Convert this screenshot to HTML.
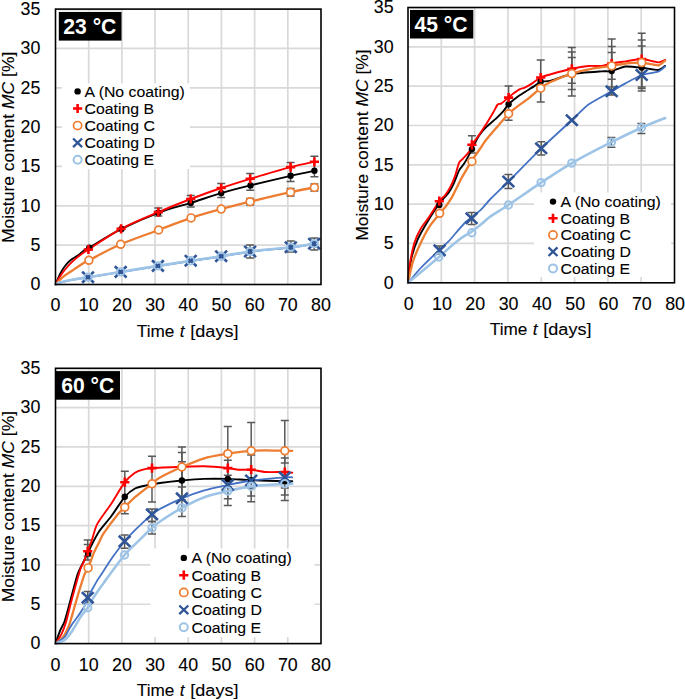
<!DOCTYPE html>
<html><head><meta charset="utf-8"><style>
html,body{margin:0;padding:0;background:#fff;width:685px;height:700px;overflow:hidden;}
svg{display:block;}
text{font-family:"Liberation Sans", sans-serif;}
text[fill="#000"]{stroke:#000;stroke-width:0.1px;}
</style></head><body>
<svg width="685" height="700" viewBox="0 0 685 700">
<rect width="685" height="700" fill="#fff"/>
<line x1="55.50" y1="245.16" x2="321.00" y2="245.16" stroke="#D9D9D9" stroke-width="1.7"/>
<line x1="55.50" y1="205.81" x2="321.00" y2="205.81" stroke="#D9D9D9" stroke-width="1.7"/>
<line x1="55.50" y1="166.47" x2="321.00" y2="166.47" stroke="#D9D9D9" stroke-width="1.7"/>
<line x1="55.50" y1="127.13" x2="321.00" y2="127.13" stroke="#D9D9D9" stroke-width="1.7"/>
<line x1="55.50" y1="87.79" x2="321.00" y2="87.79" stroke="#D9D9D9" stroke-width="1.7"/>
<line x1="55.50" y1="48.44" x2="321.00" y2="48.44" stroke="#D9D9D9" stroke-width="1.7"/>
<line x1="88.69" y1="9.10" x2="88.69" y2="284.50" stroke="#D9D9D9" stroke-width="1.7"/>
<line x1="121.88" y1="9.10" x2="121.88" y2="284.50" stroke="#D9D9D9" stroke-width="1.7"/>
<line x1="155.06" y1="9.10" x2="155.06" y2="284.50" stroke="#D9D9D9" stroke-width="1.7"/>
<line x1="188.25" y1="9.10" x2="188.25" y2="284.50" stroke="#D9D9D9" stroke-width="1.7"/>
<line x1="221.44" y1="9.10" x2="221.44" y2="284.50" stroke="#D9D9D9" stroke-width="1.7"/>
<line x1="254.62" y1="9.10" x2="254.62" y2="284.50" stroke="#D9D9D9" stroke-width="1.7"/>
<line x1="287.81" y1="9.10" x2="287.81" y2="284.50" stroke="#D9D9D9" stroke-width="1.7"/>
<rect x="62.00" y="83.40" width="128.00" height="85.60" fill="#fff"/>
<rect x="58.80" y="12.00" width="62.70" height="28.60" fill="#000"/>
<rect x="58.80" y="10.20" width="62.70" height="1.3" fill="#E4E4E4"/>
<text transform="translate(63.30 33.60) scale(0.960 1)" font-size="22" text-anchor="start" font-weight="bold" fill="#fff" >23 °C</text>
<path d="M250.20 173.60V190.30M246.20 173.60H254.20M246.20 190.30H254.20" stroke="#595959" stroke-width="1.5" fill="none"/>
<path d="M290.60 162.40V181.60M286.60 162.40H294.60M286.60 181.60H294.60" stroke="#595959" stroke-width="1.5" fill="none"/>
<path d="M314.40 156.20V176.70M310.40 156.20H318.40M310.40 176.70H318.40" stroke="#595959" stroke-width="1.5" fill="none"/>
<path d="M221.20 183.50V197.50M217.20 183.50H225.20M217.20 197.50H225.20" stroke="#595959" stroke-width="1.5" fill="none"/>
<path d="M190.70 195.50V207.00M186.70 195.50H194.70M186.70 207.00H194.70" stroke="#595959" stroke-width="1.5" fill="none"/>
<path d="M158.30 208.00V216.00M154.30 208.00H162.30M154.30 216.00H162.30" stroke="#595959" stroke-width="1.5" fill="none"/>
<path d="M290.60 188.50V196.00M286.60 188.50H294.60M286.60 196.00H294.60" stroke="#595959" stroke-width="1.5" fill="none"/>
<path d="M314.40 184.00V191.00M310.40 184.00H318.40M310.40 191.00H318.40" stroke="#595959" stroke-width="1.5" fill="none"/>
<path d="M250.10 198.50V205.00M246.10 198.50H254.10M246.10 205.00H254.10" stroke="#595959" stroke-width="1.5" fill="none"/>
<path d="M314.20 238.00V250.00M310.20 238.00H318.20M310.20 250.00H318.20" stroke="#595959" stroke-width="1.5" fill="none"/>
<path d="M290.80 241.00V252.00M286.80 241.00H294.80M286.80 252.00H294.80" stroke="#595959" stroke-width="1.5" fill="none"/>
<path d="M250.10 245.00V258.00M246.10 245.00H254.10M246.10 258.00H254.10" stroke="#595959" stroke-width="1.5" fill="none"/>
<path d="M55.50 284.50 C56.35 282.57 58.88 276.15 60.60 272.90 C62.32 269.65 64.05 267.20 65.80 265.00 C67.55 262.80 69.23 261.18 71.10 259.70 C72.97 258.22 75.25 257.30 77.00 256.10 C78.75 254.90 80.17 253.65 81.60 252.50 C83.03 251.35 84.32 250.02 85.60 249.20 C86.88 248.38 83.32 250.98 89.30 247.60 C95.28 244.22 110.00 234.70 121.50 228.90 C133.00 223.10 146.77 217.13 158.30 212.80 C169.83 208.47 180.22 206.18 190.70 202.90 C201.18 199.62 211.23 196.02 221.20 193.10 C231.17 190.18 238.93 188.28 250.50 185.40 C262.07 182.52 279.95 178.23 290.60 175.80 C301.25 173.37 310.43 171.63 314.40 170.80" fill="none" stroke="#000000" stroke-width="1.9" stroke-linejoin="round" stroke-linecap="round"/>
<path d="M55.50 284.50 C56.35 283.00 58.65 278.42 60.60 275.50 C62.55 272.58 65.02 269.52 67.20 267.00 C69.38 264.48 71.52 262.38 73.70 260.40 C75.88 258.42 77.85 256.92 80.30 255.10 C82.75 253.28 81.60 253.88 88.40 249.50 C95.20 245.12 109.45 235.03 121.10 228.80 C132.75 222.57 146.70 217.07 158.30 212.10 C169.90 207.13 180.22 203.02 190.70 199.00 C201.18 194.98 211.28 191.37 221.20 188.00 C231.12 184.63 238.63 182.28 250.20 178.80 C261.77 175.32 279.90 169.93 290.60 167.10 C301.30 164.27 310.43 162.68 314.40 161.80" fill="none" stroke="#FF0000" stroke-width="1.9" stroke-linejoin="round" stroke-linecap="round"/>
<path d="M55.50 284.50 C56.90 283.12 60.87 278.68 63.90 276.20 C66.93 273.72 70.42 271.80 73.70 269.60 C76.98 267.40 81.07 264.55 83.60 263.00 C86.13 261.45 82.72 263.42 88.90 260.30 C95.08 257.18 109.08 249.35 120.70 244.30 C132.32 239.25 146.87 234.40 158.60 230.00 C170.33 225.60 180.67 221.38 191.10 217.90 C201.53 214.42 211.37 211.80 221.20 209.10 C231.03 206.40 238.53 204.52 250.10 201.70 C261.67 198.88 279.88 194.57 290.60 192.20 C301.32 189.83 310.43 188.28 314.40 187.50" fill="none" stroke="#ED7D31" stroke-width="2.3" stroke-linejoin="round" stroke-linecap="round"/>
<path d="M55.50 284.50 C56.35 284.15 57.57 283.20 60.60 282.40 C63.63 281.60 69.13 280.53 73.70 279.70 C78.27 278.87 80.17 278.65 88.00 277.40 C95.83 276.15 109.05 274.07 120.70 272.20 C132.35 270.33 146.23 268.07 157.90 266.20 C169.57 264.33 180.15 262.62 190.70 261.00 C201.25 259.38 211.30 258.03 221.20 256.50 C231.10 254.97 238.50 253.30 250.10 251.80 C261.70 250.30 280.12 248.80 290.80 247.50 C301.48 246.20 310.30 244.58 314.20 244.00" fill="none" stroke="#4472C4" stroke-width="1.8" stroke-linejoin="round" stroke-linecap="round"/>
<path d="M55.50 284.50 C56.35 284.13 57.57 283.13 60.60 282.30 C63.63 281.47 69.13 280.35 73.70 279.50 C78.27 278.65 80.17 278.47 88.00 277.20 C95.83 275.93 109.05 273.78 120.70 271.90 C132.35 270.02 146.23 267.77 157.90 265.90 C169.57 264.03 180.15 262.32 190.70 260.70 C201.25 259.08 211.30 257.73 221.20 256.20 C231.10 254.67 238.50 253.00 250.10 251.50 C261.70 250.00 280.12 248.50 290.80 247.20 C301.48 245.90 310.30 244.28 314.20 243.70" fill="none" stroke="#9DC3E6" stroke-width="2.6" stroke-linejoin="round" stroke-linecap="round"/>
<circle cx="89.30" cy="247.60" r="3.20" fill="#000"/>
<circle cx="121.50" cy="228.90" r="3.20" fill="#000"/>
<circle cx="158.30" cy="212.80" r="3.20" fill="#000"/>
<circle cx="190.70" cy="202.90" r="3.20" fill="#000"/>
<circle cx="221.20" cy="193.10" r="3.20" fill="#000"/>
<circle cx="250.50" cy="185.40" r="3.20" fill="#000"/>
<circle cx="290.60" cy="175.80" r="3.20" fill="#000"/>
<circle cx="314.40" cy="170.80" r="3.20" fill="#000"/>
<path d="M83.80 249.50H93.00M88.40 244.90V254.10" stroke="#FF0000" stroke-width="2.6" fill="none"/>
<path d="M116.50 228.80H125.70M121.10 224.20V233.40" stroke="#FF0000" stroke-width="2.6" fill="none"/>
<path d="M153.70 212.10H162.90M158.30 207.50V216.70" stroke="#FF0000" stroke-width="2.6" fill="none"/>
<path d="M186.10 199.00H195.30M190.70 194.40V203.60" stroke="#FF0000" stroke-width="2.6" fill="none"/>
<path d="M216.60 188.00H225.80M221.20 183.40V192.60" stroke="#FF0000" stroke-width="2.6" fill="none"/>
<path d="M245.60 178.80H254.80M250.20 174.20V183.40" stroke="#FF0000" stroke-width="2.6" fill="none"/>
<path d="M286.00 167.10H295.20M290.60 162.50V171.70" stroke="#FF0000" stroke-width="2.6" fill="none"/>
<path d="M309.80 161.80H319.00M314.40 157.20V166.40" stroke="#FF0000" stroke-width="2.6" fill="none"/>
<circle cx="88.90" cy="260.30" r="3.90" fill="#fff" stroke="#ED7D31" stroke-width="1.7"/>
<circle cx="120.70" cy="244.30" r="3.90" fill="#fff" stroke="#ED7D31" stroke-width="1.7"/>
<circle cx="158.60" cy="230.00" r="3.90" fill="#fff" stroke="#ED7D31" stroke-width="1.7"/>
<circle cx="191.10" cy="217.90" r="3.90" fill="#fff" stroke="#ED7D31" stroke-width="1.7"/>
<circle cx="221.20" cy="209.10" r="3.90" fill="#fff" stroke="#ED7D31" stroke-width="1.7"/>
<circle cx="250.10" cy="201.70" r="3.90" fill="#fff" stroke="#ED7D31" stroke-width="1.7"/>
<circle cx="290.60" cy="192.20" r="3.90" fill="#fff" stroke="#ED7D31" stroke-width="1.7"/>
<circle cx="314.40" cy="187.50" r="3.90" fill="#fff" stroke="#ED7D31" stroke-width="1.7"/>
<path d="M82.12 271.60L93.88 282.80M82.12 282.80L93.88 271.60" stroke="#2F5597" stroke-width="2.60" fill="none"/>
<path d="M114.82 266.30L126.58 277.50M114.82 277.50L126.58 266.30" stroke="#2F5597" stroke-width="2.60" fill="none"/>
<path d="M152.02 260.30L163.78 271.50M152.02 271.50L163.78 260.30" stroke="#2F5597" stroke-width="2.60" fill="none"/>
<path d="M184.82 255.10L196.58 266.30M184.82 266.30L196.58 255.10" stroke="#2F5597" stroke-width="2.60" fill="none"/>
<path d="M215.32 250.60L227.08 261.80M215.32 261.80L227.08 250.60" stroke="#2F5597" stroke-width="2.60" fill="none"/>
<path d="M244.22 245.90L255.98 257.10M244.22 257.10L255.98 245.90" stroke="#2F5597" stroke-width="2.60" fill="none"/>
<path d="M284.92 241.60L296.68 252.80M284.92 252.80L296.68 241.60" stroke="#2F5597" stroke-width="2.60" fill="none"/>
<path d="M308.32 238.10L320.08 249.30M308.32 249.30L320.08 238.10" stroke="#2F5597" stroke-width="2.60" fill="none"/>
<circle cx="88.00" cy="277.20" r="3.70" fill="none" stroke="#9DC3E6" stroke-width="2.0"/>
<circle cx="120.70" cy="271.90" r="3.70" fill="none" stroke="#9DC3E6" stroke-width="2.0"/>
<circle cx="157.90" cy="265.90" r="3.70" fill="none" stroke="#9DC3E6" stroke-width="2.0"/>
<circle cx="190.70" cy="260.70" r="3.70" fill="none" stroke="#9DC3E6" stroke-width="2.0"/>
<circle cx="221.20" cy="256.20" r="3.70" fill="none" stroke="#9DC3E6" stroke-width="2.0"/>
<circle cx="250.10" cy="251.50" r="3.70" fill="none" stroke="#9DC3E6" stroke-width="2.0"/>
<circle cx="290.80" cy="247.20" r="3.70" fill="none" stroke="#9DC3E6" stroke-width="2.0"/>
<circle cx="314.20" cy="243.70" r="3.70" fill="none" stroke="#9DC3E6" stroke-width="2.0"/>
<rect x="55.50" y="9.10" width="265.50" height="275.40" fill="none" stroke="#000" stroke-width="1.6"/>
<text transform="translate(40.30 290.30) scale(1.020 1)" font-size="17.5" text-anchor="end" font-weight="normal" fill="#000" >0</text>
<text transform="translate(40.30 250.96) scale(1.020 1)" font-size="17.5" text-anchor="end" font-weight="normal" fill="#000" >5</text>
<text transform="translate(40.30 211.61) scale(1.020 1)" font-size="17.5" text-anchor="end" font-weight="normal" fill="#000" >10</text>
<text transform="translate(40.30 172.27) scale(1.020 1)" font-size="17.5" text-anchor="end" font-weight="normal" fill="#000" >15</text>
<text transform="translate(40.30 132.93) scale(1.020 1)" font-size="17.5" text-anchor="end" font-weight="normal" fill="#000" >20</text>
<text transform="translate(40.30 93.59) scale(1.020 1)" font-size="17.5" text-anchor="end" font-weight="normal" fill="#000" >25</text>
<text transform="translate(40.30 54.24) scale(1.020 1)" font-size="17.5" text-anchor="end" font-weight="normal" fill="#000" >30</text>
<text transform="translate(40.30 14.90) scale(1.020 1)" font-size="17.5" text-anchor="end" font-weight="normal" fill="#000" >35</text>
<text transform="translate(55.50 311.10) scale(1.020 1)" font-size="17.5" text-anchor="middle" font-weight="normal" fill="#000" >0</text>
<text transform="translate(88.69 311.10) scale(1.020 1)" font-size="17.5" text-anchor="middle" font-weight="normal" fill="#000" >10</text>
<text transform="translate(121.88 311.10) scale(1.020 1)" font-size="17.5" text-anchor="middle" font-weight="normal" fill="#000" >20</text>
<text transform="translate(155.06 311.10) scale(1.020 1)" font-size="17.5" text-anchor="middle" font-weight="normal" fill="#000" >30</text>
<text transform="translate(188.25 311.10) scale(1.020 1)" font-size="17.5" text-anchor="middle" font-weight="normal" fill="#000" >40</text>
<text transform="translate(221.44 311.10) scale(1.020 1)" font-size="17.5" text-anchor="middle" font-weight="normal" fill="#000" >50</text>
<text transform="translate(254.62 311.10) scale(1.020 1)" font-size="17.5" text-anchor="middle" font-weight="normal" fill="#000" >60</text>
<text transform="translate(287.81 311.10) scale(1.020 1)" font-size="17.5" text-anchor="middle" font-weight="normal" fill="#000" >70</text>
<text transform="translate(321.00 311.10) scale(1.020 1)" font-size="17.5" text-anchor="middle" font-weight="normal" fill="#000" >80</text>
<text x="136.80" y="336.60" font-size="17.2" fill="#000">Time</text>
<text x="179.75" y="336.60" font-size="17.2" font-style="italic" fill="#000">t</text>
<text transform="translate(190.30 336.60) scale(1.05 1)" font-size="17.2" fill="#000">[days]</text>
<text transform="translate(14.20 147.35) rotate(-90) scale(1.029 1)" font-size="17" text-anchor="middle" fill="#000">Moisture content <tspan font-style="italic">MC</tspan> [%]</text>
<circle cx="77.60" cy="91.40" r="3.20" fill="#000"/>
<text transform="translate(84.60 96.70) scale(1.055 1)" font-size="15" text-anchor="start" font-weight="normal" fill="#000" >A (No coating)</text>
<path d="M73.00 108.50H82.20M77.60 103.90V113.10" stroke="#FF0000" stroke-width="2.6" fill="none"/>
<text transform="translate(84.60 113.80) scale(1.055 1)" font-size="15" text-anchor="start" font-weight="normal" fill="#000" >Coating B</text>
<circle cx="77.60" cy="125.60" r="4.10" fill="#fff" stroke="#ED7D31" stroke-width="1.7"/>
<text transform="translate(84.60 130.90) scale(1.055 1)" font-size="15" text-anchor="start" font-weight="normal" fill="#000" >Coating C</text>
<path d="M73.08 138.50L82.11 147.10M73.08 147.10L82.11 138.50" stroke="#2F5597" stroke-width="2.30" fill="none"/>
<text transform="translate(84.60 148.10) scale(1.055 1)" font-size="15" text-anchor="start" font-weight="normal" fill="#000" >Coating D</text>
<circle cx="77.60" cy="159.80" r="4.00" fill="#fff" stroke="#9DC3E6" stroke-width="2.0"/>
<text transform="translate(84.60 165.10) scale(1.055 1)" font-size="15" text-anchor="start" font-weight="normal" fill="#000" >Coating E</text>
<line x1="408.00" y1="243.47" x2="674.50" y2="243.47" stroke="#D9D9D9" stroke-width="1.7"/>
<line x1="408.00" y1="204.14" x2="674.50" y2="204.14" stroke="#D9D9D9" stroke-width="1.7"/>
<line x1="408.00" y1="164.81" x2="674.50" y2="164.81" stroke="#D9D9D9" stroke-width="1.7"/>
<line x1="408.00" y1="125.49" x2="674.50" y2="125.49" stroke="#D9D9D9" stroke-width="1.7"/>
<line x1="408.00" y1="86.16" x2="674.50" y2="86.16" stroke="#D9D9D9" stroke-width="1.7"/>
<line x1="408.00" y1="46.83" x2="674.50" y2="46.83" stroke="#D9D9D9" stroke-width="1.7"/>
<line x1="441.31" y1="7.50" x2="441.31" y2="282.80" stroke="#D9D9D9" stroke-width="1.7"/>
<line x1="474.62" y1="7.50" x2="474.62" y2="282.80" stroke="#D9D9D9" stroke-width="1.7"/>
<line x1="507.94" y1="7.50" x2="507.94" y2="282.80" stroke="#D9D9D9" stroke-width="1.7"/>
<line x1="541.25" y1="7.50" x2="541.25" y2="282.80" stroke="#D9D9D9" stroke-width="1.7"/>
<line x1="574.56" y1="7.50" x2="574.56" y2="282.80" stroke="#D9D9D9" stroke-width="1.7"/>
<line x1="607.88" y1="7.50" x2="607.88" y2="282.80" stroke="#D9D9D9" stroke-width="1.7"/>
<line x1="641.19" y1="7.50" x2="641.19" y2="282.80" stroke="#D9D9D9" stroke-width="1.7"/>
<rect x="534.00" y="192.50" width="137.00" height="84.50" fill="#fff"/>
<rect x="410.00" y="10.00" width="63.30" height="28.50" fill="#000"/>
<rect x="410.00" y="8.20" width="63.30" height="1.3" fill="#E4E4E4"/>
<text transform="translate(414.50 31.80) scale(0.960 1)" font-size="22" text-anchor="start" font-weight="bold" fill="#fff" >45 °C</text>
<path d="M471.90 135.80V152.90M467.90 135.80H475.90M467.90 152.90H475.90" stroke="#595959" stroke-width="1.5" fill="none"/>
<path d="M508.60 86.00V120.30M504.60 86.00H512.60M504.60 120.30H512.60" stroke="#595959" stroke-width="1.5" fill="none"/>
<path d="M540.70 60.10V102.10M536.70 60.10H544.70M536.70 102.10H544.70" stroke="#595959" stroke-width="1.5" fill="none"/>
<path d="M571.80 47.40V96.00M567.80 47.40H575.80M567.80 96.00H575.80" stroke="#595959" stroke-width="1.5" fill="none"/>
<path d="M571.80 52.10V89.60M567.80 52.10H575.80M567.80 89.60H575.80" stroke="#595959" stroke-width="1.5" fill="none"/>
<path d="M571.80 57.50V83.20M567.80 57.50H575.80M567.80 83.20H575.80" stroke="#595959" stroke-width="1.5" fill="none"/>
<path d="M611.70 39.00V95.00M607.70 39.00H615.70M607.70 95.00H615.70" stroke="#595959" stroke-width="1.5" fill="none"/>
<path d="M611.70 46.60V86.90M607.70 46.60H615.70M607.70 86.90H615.70" stroke="#595959" stroke-width="1.5" fill="none"/>
<path d="M611.70 52.40V79.30M607.70 52.40H615.70M607.70 79.30H615.70" stroke="#595959" stroke-width="1.5" fill="none"/>
<path d="M641.70 33.20V91.00M637.70 33.20H645.70M637.70 91.00H645.70" stroke="#595959" stroke-width="1.5" fill="none"/>
<path d="M641.70 40.00V88.60M637.70 40.00H645.70M637.70 88.60H645.70" stroke="#595959" stroke-width="1.5" fill="none"/>
<path d="M641.70 46.00V86.90M637.70 46.00H645.70M637.70 86.90H645.70" stroke="#595959" stroke-width="1.5" fill="none"/>
<path d="M541.20 141.70V155.00M537.20 141.70H545.20M537.20 155.00H545.20" stroke="#595959" stroke-width="1.5" fill="none"/>
<path d="M508.40 174.50V188.50M504.40 174.50H512.40M504.40 188.50H512.40" stroke="#595959" stroke-width="1.5" fill="none"/>
<path d="M471.60 212.50V224.50M467.60 212.50H475.60M467.60 224.50H475.60" stroke="#595959" stroke-width="1.5" fill="none"/>
<path d="M439.60 246.00V254.00M435.60 246.00H443.60M435.60 254.00H443.60" stroke="#595959" stroke-width="1.5" fill="none"/>
<path d="M611.40 137.50V147.30M607.40 137.50H615.40M607.40 147.30H615.40" stroke="#595959" stroke-width="1.5" fill="none"/>
<path d="M641.40 123.40V133.50M637.40 123.40H645.40M637.40 133.50H645.40" stroke="#595959" stroke-width="1.5" fill="none"/>
<path d="M408.00 282.80 C408.33 280.38 410.34 262.91 411.30 258.60 C412.26 254.29 416.03 243.32 417.60 239.70 C419.17 236.08 424.82 226.03 427.00 222.40 C429.18 218.77 437.22 206.40 439.40 203.40 C441.58 200.40 447.38 194.36 448.80 192.40 C450.22 190.44 452.57 186.00 453.60 183.80 C454.63 181.60 458.08 172.37 459.10 170.40 C460.12 168.43 462.71 165.83 463.80 164.10 C464.89 162.37 469.19 154.63 470.00 153.10 C470.81 151.57 471.00 150.55 471.90 148.80 C472.80 147.05 477.52 137.82 479.00 135.60 C480.48 133.38 485.03 128.27 486.70 126.60 C488.37 124.93 494.03 120.44 495.70 118.90 C497.37 117.36 502.11 112.68 503.40 111.20 C504.69 109.72 507.31 105.45 508.60 104.10 C509.89 102.75 514.76 98.86 516.30 97.70 C517.84 96.54 522.20 93.66 524.00 92.50 C525.80 91.34 532.63 87.19 534.30 86.10 C535.97 85.01 539.13 82.12 540.70 81.60 C542.27 81.08 546.89 81.66 550.00 80.90 C553.11 80.14 566.66 74.95 571.80 74.00 C576.94 73.05 597.41 71.69 601.40 71.40 C605.39 71.11 609.30 71.59 611.70 71.10 C614.10 70.61 622.40 66.85 625.40 66.50 C628.40 66.15 638.43 67.25 641.70 67.60 C644.97 67.95 655.76 70.17 658.10 70.00 C660.44 69.83 664.40 66.31 665.10 65.90" fill="none" stroke="#000000" stroke-width="1.9" stroke-linejoin="round" stroke-linecap="round"/>
<path d="M408.00 282.80 C408.17 281.01 409.06 268.89 409.70 264.90 C410.34 260.91 413.30 246.52 414.40 242.90 C415.50 239.28 419.28 231.22 420.70 228.70 C422.12 226.18 426.73 220.47 428.60 217.70 C430.47 214.93 437.77 203.22 439.40 201.00 C441.03 198.78 443.80 196.91 444.90 195.50 C446.00 194.09 449.38 188.86 450.40 186.90 C451.42 184.94 454.23 178.33 455.10 175.90 C455.97 173.47 458.31 164.33 459.10 162.60 C459.89 160.87 461.98 159.70 463.00 158.60 C464.02 157.50 468.41 152.96 469.30 151.60 C470.19 150.24 471.06 146.47 471.90 145.00 C472.74 143.53 476.35 138.87 477.70 136.90 C479.05 134.93 483.85 127.75 485.40 125.30 C486.95 122.85 491.97 114.48 493.20 112.40 C494.43 110.32 496.87 105.40 497.70 104.50 C498.53 103.60 500.41 104.12 501.50 103.40 C502.59 102.68 507.38 98.32 508.60 97.30 C509.82 96.28 512.61 94.00 513.70 93.20 C514.79 92.40 518.34 89.88 519.50 89.30 C520.66 88.72 523.95 88.04 525.30 87.40 C526.65 86.76 531.46 83.91 533.00 82.90 C534.54 81.89 539.00 78.14 540.70 77.30 C542.40 76.46 546.89 75.35 550.00 74.50 C553.11 73.65 567.95 69.65 571.80 68.80 C575.65 67.95 585.48 66.29 588.50 66.00 C591.52 65.71 599.68 66.15 602.00 65.90 C604.32 65.65 609.36 63.95 611.70 63.50 C614.04 63.05 622.40 61.85 625.40 61.40 C628.40 60.95 638.43 58.90 641.70 59.00 C644.97 59.10 655.76 62.32 658.10 62.40 C660.44 62.48 664.40 60.06 665.10 59.80" fill="none" stroke="#FF0000" stroke-width="1.9" stroke-linejoin="round" stroke-linecap="round"/>
<path d="M408.00 282.80 C408.49 280.69 411.63 265.69 412.90 261.70 C414.17 257.71 418.98 246.51 420.70 242.90 C422.42 239.29 428.20 228.53 430.10 225.60 C432.00 222.67 438.14 215.51 439.70 213.60 C441.26 211.69 444.47 208.15 445.70 206.50 C446.93 204.85 450.90 198.98 452.00 197.10 C453.10 195.22 455.76 189.58 456.70 187.70 C457.64 185.82 460.38 180.19 461.40 178.30 C462.42 176.41 465.85 170.58 466.90 168.80 C467.95 167.02 470.56 162.53 471.90 160.50 C473.24 158.47 478.95 150.48 480.30 148.50 C481.65 146.52 483.86 142.70 485.40 140.70 C486.94 138.70 493.38 131.20 495.70 128.50 C498.02 125.80 506.54 115.82 508.60 113.70 C510.66 111.58 514.37 108.78 516.30 107.30 C518.23 105.82 525.46 100.82 527.90 98.90 C530.34 96.98 538.49 89.77 540.70 88.10 C542.91 86.43 546.89 83.65 550.00 82.20 C553.11 80.75 567.30 75.00 571.80 73.60 C576.30 72.20 591.01 68.97 595.00 68.20 C598.99 67.43 608.66 66.37 611.70 65.90 C614.74 65.43 622.40 63.83 625.40 63.50 C628.40 63.17 638.43 62.42 641.70 62.60 C644.97 62.78 655.76 65.50 658.10 65.30 C660.44 65.10 664.40 61.07 665.10 60.60" fill="none" stroke="#ED7D31" stroke-width="2.3" stroke-linejoin="round" stroke-linecap="round"/>
<path d="M408.00 282.80 C409.27 281.32 417.56 271.29 420.70 268.00 C423.84 264.71 436.59 252.59 439.40 249.90 C442.21 247.21 446.91 243.08 448.80 241.10 C450.69 239.12 456.57 232.06 458.30 230.10 C460.03 228.14 464.77 222.76 466.10 221.50 C467.43 220.24 470.03 218.76 471.60 217.50 C473.17 216.24 479.96 210.70 481.80 208.90 C483.64 207.10 487.34 202.24 490.00 199.50 C492.66 196.76 503.27 186.61 508.40 181.50 C513.53 176.39 534.96 154.53 541.30 148.40 C547.64 142.27 567.08 124.58 571.80 120.20 C576.52 115.82 584.51 107.49 588.50 104.60 C592.49 101.71 608.01 93.42 611.70 91.30 C615.39 89.18 622.40 85.03 625.40 83.40 C628.40 81.77 638.43 76.17 641.70 75.00 C644.97 73.83 655.76 72.55 658.10 71.70 C660.44 70.85 664.40 67.02 665.10 66.50" fill="none" stroke="#4472C4" stroke-width="1.8" stroke-linejoin="round" stroke-linecap="round"/>
<path d="M408.00 282.80 C411.14 280.20 435.32 260.26 439.40 256.80 C443.48 253.34 446.60 250.08 448.80 248.20 C451.00 246.32 459.12 239.65 461.40 238.00 C463.68 236.35 469.56 233.12 471.60 231.70 C473.64 230.28 479.96 225.29 481.80 223.80 C483.64 222.31 487.34 218.68 490.00 216.80 C492.66 214.92 503.29 208.42 508.40 205.00 C513.51 201.58 534.76 186.79 541.10 182.60 C547.44 178.41 564.77 167.14 571.80 163.10 C578.83 159.06 604.44 145.74 611.40 142.20 C618.36 138.66 636.02 130.12 641.40 127.70 C646.78 125.28 662.82 118.97 665.20 118.00" fill="none" stroke="#9DC3E6" stroke-width="2.6" stroke-linejoin="round" stroke-linecap="round"/>
<circle cx="439.30" cy="205.00" r="3.20" fill="#000"/>
<circle cx="471.90" cy="149.10" r="3.20" fill="#000"/>
<circle cx="508.60" cy="104.30" r="3.20" fill="#000"/>
<circle cx="540.70" cy="81.60" r="3.20" fill="#000"/>
<circle cx="571.80" cy="74.00" r="3.20" fill="#000"/>
<circle cx="611.70" cy="71.10" r="3.20" fill="#000"/>
<circle cx="641.70" cy="67.60" r="3.20" fill="#000"/>
<path d="M434.70 201.20H443.90M439.30 196.60V205.80" stroke="#FF0000" stroke-width="2.6" fill="none"/>
<path d="M467.30 144.80H476.50M471.90 140.20V149.40" stroke="#FF0000" stroke-width="2.6" fill="none"/>
<path d="M504.00 97.60H513.20M508.60 93.00V102.20" stroke="#FF0000" stroke-width="2.6" fill="none"/>
<path d="M536.10 77.50H545.30M540.70 72.90V82.10" stroke="#FF0000" stroke-width="2.6" fill="none"/>
<path d="M567.20 68.80H576.40M571.80 64.20V73.40" stroke="#FF0000" stroke-width="2.6" fill="none"/>
<path d="M607.10 63.50H616.30M611.70 58.90V68.10" stroke="#FF0000" stroke-width="2.6" fill="none"/>
<path d="M637.10 59.00H646.30M641.70 54.40V63.60" stroke="#FF0000" stroke-width="2.6" fill="none"/>
<circle cx="439.60" cy="213.30" r="3.90" fill="#fff" stroke="#ED7D31" stroke-width="1.7"/>
<circle cx="471.90" cy="161.50" r="3.90" fill="#fff" stroke="#ED7D31" stroke-width="1.7"/>
<circle cx="508.60" cy="113.70" r="3.90" fill="#fff" stroke="#ED7D31" stroke-width="1.7"/>
<circle cx="540.70" cy="88.20" r="3.90" fill="#fff" stroke="#ED7D31" stroke-width="1.7"/>
<circle cx="571.80" cy="73.60" r="3.90" fill="#fff" stroke="#ED7D31" stroke-width="1.7"/>
<circle cx="611.70" cy="65.90" r="3.90" fill="#fff" stroke="#ED7D31" stroke-width="1.7"/>
<circle cx="641.70" cy="62.60" r="3.90" fill="#fff" stroke="#ED7D31" stroke-width="1.7"/>
<path d="M433.72 244.80L445.48 256.00M433.72 256.00L445.48 244.80" stroke="#2F5597" stroke-width="2.60" fill="none"/>
<path d="M465.72 212.70L477.48 223.90M465.72 223.90L477.48 212.70" stroke="#2F5597" stroke-width="2.60" fill="none"/>
<path d="M502.52 175.90L514.28 187.10M502.52 187.10L514.28 175.90" stroke="#2F5597" stroke-width="2.60" fill="none"/>
<path d="M535.32 142.70L547.08 153.90M535.32 153.90L547.08 142.70" stroke="#2F5597" stroke-width="2.60" fill="none"/>
<path d="M565.92 114.60L577.68 125.80M565.92 125.80L577.68 114.60" stroke="#2F5597" stroke-width="2.60" fill="none"/>
<path d="M605.82 85.70L617.58 96.90M605.82 96.90L617.58 85.70" stroke="#2F5597" stroke-width="2.60" fill="none"/>
<path d="M635.82 69.40L647.58 80.60M635.82 80.60L647.58 69.40" stroke="#2F5597" stroke-width="2.60" fill="none"/>
<circle cx="438.80" cy="257.00" r="3.70" fill="none" stroke="#9DC3E6" stroke-width="2.0"/>
<circle cx="471.80" cy="232.70" r="3.70" fill="none" stroke="#9DC3E6" stroke-width="2.0"/>
<circle cx="508.40" cy="205.00" r="3.70" fill="none" stroke="#9DC3E6" stroke-width="2.0"/>
<circle cx="541.10" cy="182.60" r="3.70" fill="none" stroke="#9DC3E6" stroke-width="2.0"/>
<circle cx="571.80" cy="163.10" r="3.70" fill="none" stroke="#9DC3E6" stroke-width="2.0"/>
<circle cx="611.40" cy="142.20" r="3.70" fill="none" stroke="#9DC3E6" stroke-width="2.0"/>
<circle cx="641.40" cy="127.70" r="3.70" fill="none" stroke="#9DC3E6" stroke-width="2.0"/>
<rect x="408.00" y="7.50" width="266.50" height="275.30" fill="none" stroke="#000" stroke-width="1.6"/>
<text transform="translate(393.60 288.60) scale(1.020 1)" font-size="17.5" text-anchor="end" font-weight="normal" fill="#000" >0</text>
<text transform="translate(393.60 249.27) scale(1.020 1)" font-size="17.5" text-anchor="end" font-weight="normal" fill="#000" >5</text>
<text transform="translate(393.60 209.94) scale(1.020 1)" font-size="17.5" text-anchor="end" font-weight="normal" fill="#000" >10</text>
<text transform="translate(393.60 170.61) scale(1.020 1)" font-size="17.5" text-anchor="end" font-weight="normal" fill="#000" >15</text>
<text transform="translate(393.60 131.29) scale(1.020 1)" font-size="17.5" text-anchor="end" font-weight="normal" fill="#000" >20</text>
<text transform="translate(393.60 91.96) scale(1.020 1)" font-size="17.5" text-anchor="end" font-weight="normal" fill="#000" >25</text>
<text transform="translate(393.60 52.63) scale(1.020 1)" font-size="17.5" text-anchor="end" font-weight="normal" fill="#000" >30</text>
<text transform="translate(393.60 13.30) scale(1.020 1)" font-size="17.5" text-anchor="end" font-weight="normal" fill="#000" >35</text>
<text transform="translate(408.60 309.50) scale(1.020 1)" font-size="17.5" text-anchor="middle" font-weight="normal" fill="#000" >0</text>
<text transform="translate(441.91 309.50) scale(1.020 1)" font-size="17.5" text-anchor="middle" font-weight="normal" fill="#000" >10</text>
<text transform="translate(475.23 309.50) scale(1.020 1)" font-size="17.5" text-anchor="middle" font-weight="normal" fill="#000" >20</text>
<text transform="translate(508.54 309.50) scale(1.020 1)" font-size="17.5" text-anchor="middle" font-weight="normal" fill="#000" >30</text>
<text transform="translate(541.85 309.50) scale(1.020 1)" font-size="17.5" text-anchor="middle" font-weight="normal" fill="#000" >40</text>
<text transform="translate(575.16 309.50) scale(1.020 1)" font-size="17.5" text-anchor="middle" font-weight="normal" fill="#000" >50</text>
<text transform="translate(608.48 309.50) scale(1.020 1)" font-size="17.5" text-anchor="middle" font-weight="normal" fill="#000" >60</text>
<text transform="translate(641.79 309.50) scale(1.020 1)" font-size="17.5" text-anchor="middle" font-weight="normal" fill="#000" >70</text>
<text transform="translate(675.10 309.50) scale(1.020 1)" font-size="17.5" text-anchor="middle" font-weight="normal" fill="#000" >80</text>
<text x="489.80" y="334.60" font-size="17.2" fill="#000">Time</text>
<text x="532.75" y="334.60" font-size="17.2" font-style="italic" fill="#000">t</text>
<text transform="translate(543.30 334.60) scale(1.05 1)" font-size="17.2" fill="#000">[days]</text>
<text transform="translate(367.60 145.00) rotate(-90) scale(1.029 1)" font-size="17" text-anchor="middle" fill="#000">Moisture content <tspan font-style="italic">MC</tspan> [%]</text>
<circle cx="553.00" cy="201.60" r="3.20" fill="#000"/>
<text transform="translate(560.60 206.90) scale(1.055 1)" font-size="15" text-anchor="start" font-weight="normal" fill="#000" >A (No coating)</text>
<path d="M548.40 218.30H557.60M553.00 213.70V222.90" stroke="#FF0000" stroke-width="2.6" fill="none"/>
<text transform="translate(560.60 223.60) scale(1.055 1)" font-size="15" text-anchor="start" font-weight="normal" fill="#000" >Coating B</text>
<circle cx="553.00" cy="235.00" r="4.10" fill="#fff" stroke="#ED7D31" stroke-width="1.7"/>
<text transform="translate(560.60 240.30) scale(1.055 1)" font-size="15" text-anchor="start" font-weight="normal" fill="#000" >Coating C</text>
<path d="M548.49 247.40L557.51 256.00M548.49 256.00L557.51 247.40" stroke="#2F5597" stroke-width="2.30" fill="none"/>
<text transform="translate(560.60 257.00) scale(1.055 1)" font-size="15" text-anchor="start" font-weight="normal" fill="#000" >Coating D</text>
<circle cx="553.00" cy="268.40" r="4.00" fill="#fff" stroke="#9DC3E6" stroke-width="2.0"/>
<text transform="translate(560.60 273.70) scale(1.055 1)" font-size="15" text-anchor="start" font-weight="normal" fill="#000" >Coating E</text>
<line x1="55.50" y1="604.27" x2="321.00" y2="604.27" stroke="#D9D9D9" stroke-width="1.7"/>
<line x1="55.50" y1="564.94" x2="321.00" y2="564.94" stroke="#D9D9D9" stroke-width="1.7"/>
<line x1="55.50" y1="525.61" x2="321.00" y2="525.61" stroke="#D9D9D9" stroke-width="1.7"/>
<line x1="55.50" y1="486.29" x2="321.00" y2="486.29" stroke="#D9D9D9" stroke-width="1.7"/>
<line x1="55.50" y1="446.96" x2="321.00" y2="446.96" stroke="#D9D9D9" stroke-width="1.7"/>
<line x1="55.50" y1="407.63" x2="321.00" y2="407.63" stroke="#D9D9D9" stroke-width="1.7"/>
<line x1="88.69" y1="368.30" x2="88.69" y2="643.60" stroke="#D9D9D9" stroke-width="1.7"/>
<line x1="121.88" y1="368.30" x2="121.88" y2="643.60" stroke="#D9D9D9" stroke-width="1.7"/>
<line x1="155.06" y1="368.30" x2="155.06" y2="643.60" stroke="#D9D9D9" stroke-width="1.7"/>
<line x1="188.25" y1="368.30" x2="188.25" y2="643.60" stroke="#D9D9D9" stroke-width="1.7"/>
<line x1="221.44" y1="368.30" x2="221.44" y2="643.60" stroke="#D9D9D9" stroke-width="1.7"/>
<line x1="254.62" y1="368.30" x2="254.62" y2="643.60" stroke="#D9D9D9" stroke-width="1.7"/>
<line x1="287.81" y1="368.30" x2="287.81" y2="643.60" stroke="#D9D9D9" stroke-width="1.7"/>
<rect x="150.30" y="548.50" width="164.20" height="88.50" fill="#fff"/>
<rect x="56.00" y="371.10" width="64.00" height="28.60" fill="#000"/>
<rect x="56.00" y="369.30" width="64.00" height="1.3" fill="#E4E4E4"/>
<text transform="translate(61.20 392.50) scale(0.960 1)" font-size="22" text-anchor="start" font-weight="bold" fill="#fff" >60 °C</text>
<path d="M87.70 540.00V560.00M83.70 540.00H91.70M83.70 560.00H91.70" stroke="#595959" stroke-width="1.5" fill="none"/>
<path d="M87.70 544.50V556.00M83.70 544.50H91.70M83.70 556.00H91.70" stroke="#595959" stroke-width="1.5" fill="none"/>
<path d="M87.70 591.50V604.00M83.70 591.50H91.70M83.70 604.00H91.70" stroke="#595959" stroke-width="1.5" fill="none"/>
<path d="M124.80 471.20V513.70M120.80 471.20H128.80M120.80 513.70H128.80" stroke="#595959" stroke-width="1.5" fill="none"/>
<path d="M124.60 534.90V548.20M120.60 534.90H128.60M120.60 548.20H128.60" stroke="#595959" stroke-width="1.5" fill="none"/>
<path d="M152.00 456.30V501.90M148.00 456.30H156.00M148.00 501.90H156.00" stroke="#595959" stroke-width="1.5" fill="none"/>
<path d="M152.00 509.00V521.50M148.00 509.00H156.00M148.00 521.50H156.00" stroke="#595959" stroke-width="1.5" fill="none"/>
<path d="M152.00 521.50V534.10M148.00 521.50H156.00M148.00 534.10H156.00" stroke="#595959" stroke-width="1.5" fill="none"/>
<path d="M181.90 446.90V486.90M177.90 446.90H185.90M177.90 486.90H185.90" stroke="#595959" stroke-width="1.5" fill="none"/>
<path d="M181.90 452.60V516.60M177.90 452.60H185.90M177.90 516.60H185.90" stroke="#595959" stroke-width="1.5" fill="none"/>
<path d="M181.90 461.70V500.00M177.90 461.70H185.90M177.90 500.00H185.90" stroke="#595959" stroke-width="1.5" fill="none"/>
<path d="M227.80 426.40V505.60M223.80 426.40H231.80M223.80 505.60H231.80" stroke="#595959" stroke-width="1.5" fill="none"/>
<path d="M227.80 460.20V475.30M223.80 460.20H231.80M223.80 475.30H231.80" stroke="#595959" stroke-width="1.5" fill="none"/>
<path d="M227.80 487.00V498.80M223.80 487.00H231.80M223.80 498.80H231.80" stroke="#595959" stroke-width="1.5" fill="none"/>
<path d="M251.20 422.40V501.70M247.20 422.40H255.20M247.20 501.70H255.20" stroke="#595959" stroke-width="1.5" fill="none"/>
<path d="M251.20 455.00V470.00M247.20 455.00H255.20M247.20 470.00H255.20" stroke="#595959" stroke-width="1.5" fill="none"/>
<path d="M251.20 488.00V496.00M247.20 488.00H255.20M247.20 496.00H255.20" stroke="#595959" stroke-width="1.5" fill="none"/>
<path d="M284.80 420.60V500.60M280.80 420.60H288.80M280.80 500.60H288.80" stroke="#595959" stroke-width="1.5" fill="none"/>
<path d="M284.80 458.00V463.00M280.80 458.00H288.80M280.80 463.00H288.80" stroke="#595959" stroke-width="1.5" fill="none"/>
<path d="M284.80 488.00V495.00M280.80 488.00H288.80M280.80 495.00H288.80" stroke="#595959" stroke-width="1.5" fill="none"/>
<path d="M55.50 643.60 C56.06 642.01 58.89 633.62 60.00 630.90 C61.11 628.17 63.36 624.64 64.40 621.80 C65.44 618.96 67.25 611.99 68.30 608.20 C69.35 604.41 71.66 595.67 72.80 591.50 C73.94 587.33 76.33 578.01 77.40 574.80 C78.48 571.59 80.06 568.55 81.40 565.80 C82.74 563.05 86.89 555.27 88.10 552.80 C89.31 550.32 89.75 548.64 91.10 546.00 C92.45 543.36 96.36 535.45 98.90 531.70 C101.44 527.95 108.16 520.36 111.40 516.00 C114.64 511.64 121.85 500.24 124.80 496.80 C127.75 493.36 132.35 489.93 135.00 488.50 C137.65 487.07 142.88 486.09 146.00 485.40 C149.12 484.71 155.51 483.61 160.00 483.00 C164.49 482.39 176.36 481.01 181.90 480.50 C187.44 479.99 198.56 479.10 204.30 478.90 C210.04 478.70 221.94 478.74 227.80 478.90 C233.66 479.06 244.07 479.91 251.20 480.20 C258.32 480.49 279.66 481.07 284.80 481.20 C289.94 481.32 291.36 481.20 292.30 481.20" fill="none" stroke="#000000" stroke-width="1.9" stroke-linejoin="round" stroke-linecap="round"/>
<path d="M55.50 643.60 C56.26 642.39 60.28 636.62 61.60 633.90 C62.92 631.17 64.96 625.59 66.10 621.80 C67.24 618.01 69.56 607.95 70.70 603.60 C71.84 599.25 73.98 591.35 75.20 587.00 C76.42 582.65 79.46 571.84 80.50 568.80 C81.54 565.76 82.60 564.89 83.50 562.70 C84.40 560.51 86.65 554.14 87.70 551.30 C88.75 548.46 90.70 543.42 91.90 540.00 C93.10 536.58 94.86 528.48 97.30 523.90 C99.74 519.32 107.96 508.61 111.40 503.40 C114.84 498.19 121.85 486.02 124.80 482.20 C127.75 478.38 132.74 474.38 135.00 472.80 C137.26 471.23 140.78 470.19 142.90 469.60 C145.03 469.01 147.12 468.45 152.00 468.10 C156.88 467.75 175.36 467.03 181.90 466.80 C188.44 466.57 198.56 466.14 204.30 466.30 C210.04 466.46 223.51 467.68 227.80 468.10 C232.09 468.53 235.68 469.50 238.60 469.70 C241.52 469.90 247.77 469.41 251.20 469.70 C254.62 469.99 261.80 471.71 266.00 472.00 C270.20 472.29 281.51 471.91 284.80 472.00 C288.09 472.09 291.36 472.61 292.30 472.70" fill="none" stroke="#FF0000" stroke-width="1.9" stroke-linejoin="round" stroke-linecap="round"/>
<path d="M55.50 643.60 C56.45 642.77 61.39 639.35 63.10 637.00 C64.81 634.65 67.88 628.21 69.20 624.80 C70.53 621.39 72.48 613.86 73.70 609.70 C74.92 605.54 77.67 595.86 79.00 591.50 C80.33 587.14 83.16 577.75 84.30 574.80 C85.44 571.85 86.86 570.74 88.10 567.90 C89.34 565.06 92.78 555.40 94.20 552.10 C95.62 548.80 98.33 543.85 99.50 541.50 C100.67 539.15 101.32 536.69 103.60 533.30 C105.88 529.91 115.05 517.66 117.70 514.40 C120.35 511.14 122.64 509.35 124.80 507.20 C126.96 505.05 131.60 500.12 135.00 497.20 C138.40 494.27 148.88 486.26 152.00 483.80 C155.12 481.34 156.26 479.60 160.00 477.50 C163.74 475.40 176.36 469.40 181.90 467.00 C187.44 464.60 198.56 459.96 204.30 458.30 C210.04 456.64 223.51 454.47 227.80 453.70 C232.09 452.93 235.68 452.46 238.60 452.10 C241.52 451.74 247.77 451.03 251.20 450.80 C254.62 450.57 261.80 450.30 266.00 450.30 C270.20 450.30 281.51 450.74 284.80 450.80 C288.09 450.86 291.36 450.80 292.30 450.80" fill="none" stroke="#ED7D31" stroke-width="2.3" stroke-linejoin="round" stroke-linecap="round"/>
<path d="M55.50 643.60 C56.64 642.77 62.70 639.15 64.60 637.00 C66.50 634.85 69.00 629.05 70.70 626.40 C72.40 623.75 76.50 618.26 78.20 615.80 C79.90 613.34 83.11 608.96 84.30 606.70 C85.49 604.44 86.75 599.79 87.70 597.70 C88.65 595.61 90.62 592.29 91.90 590.00 C93.18 587.71 96.39 581.86 97.90 579.40 C99.41 576.94 102.33 572.85 104.00 570.30 C105.67 567.75 108.72 562.62 111.30 559.00 C113.88 555.38 121.64 544.90 124.60 541.30 C127.56 537.70 131.57 533.56 135.00 530.20 C138.43 526.84 148.88 517.06 152.00 514.40 C155.12 511.74 156.26 510.91 160.00 508.90 C163.74 506.89 176.36 500.62 181.90 498.30 C187.44 495.98 198.56 491.96 204.30 490.30 C210.04 488.64 221.94 486.23 227.80 485.00 C233.66 483.77 244.07 481.46 251.20 480.50 C258.32 479.54 279.66 477.70 284.80 477.30 C289.94 476.90 291.36 477.30 292.30 477.30" fill="none" stroke="#4472C4" stroke-width="1.8" stroke-linejoin="round" stroke-linecap="round"/>
<path d="M55.50 643.60 C56.64 643.15 62.51 641.59 64.60 640.00 C66.69 638.41 70.11 633.92 72.20 630.90 C74.29 627.88 79.36 618.70 81.30 615.80 C83.24 612.90 86.19 609.98 87.70 607.70 C89.21 605.43 91.36 600.76 93.40 597.60 C95.44 594.44 100.11 587.73 104.00 582.40 C107.89 577.07 120.10 560.25 124.50 555.00 C128.90 549.75 135.76 543.80 139.20 540.40 C142.64 537.00 149.40 530.16 152.00 527.80 C154.60 525.44 156.26 523.99 160.00 521.50 C163.74 519.01 176.36 510.94 181.90 507.90 C187.44 504.86 198.56 499.31 204.30 497.20 C210.04 495.09 221.94 492.35 227.80 491.00 C233.66 489.65 244.07 487.30 251.20 486.40 C258.32 485.50 279.66 484.12 284.80 483.80 C289.94 483.48 291.36 483.80 292.30 483.80" fill="none" stroke="#9DC3E6" stroke-width="2.6" stroke-linejoin="round" stroke-linecap="round"/>
<circle cx="88.10" cy="553.40" r="3.20" fill="#000"/>
<circle cx="124.80" cy="496.80" r="3.20" fill="#000"/>
<circle cx="151.80" cy="484.20" r="3.20" fill="#000"/>
<circle cx="181.90" cy="480.50" r="3.20" fill="#000"/>
<circle cx="227.80" cy="478.90" r="3.20" fill="#000"/>
<circle cx="251.20" cy="480.20" r="3.20" fill="#000"/>
<circle cx="284.80" cy="481.20" r="3.20" fill="#000"/>
<path d="M83.10 551.30H92.30M87.70 546.70V555.90" stroke="#FF0000" stroke-width="2.6" fill="none"/>
<path d="M120.20 482.20H129.40M124.80 477.60V486.80" stroke="#FF0000" stroke-width="2.6" fill="none"/>
<path d="M147.40 468.10H156.60M152.00 463.50V472.70" stroke="#FF0000" stroke-width="2.6" fill="none"/>
<path d="M177.30 466.80H186.50M181.90 462.20V471.40" stroke="#FF0000" stroke-width="2.6" fill="none"/>
<path d="M223.20 468.10H232.40M227.80 463.50V472.70" stroke="#FF0000" stroke-width="2.6" fill="none"/>
<path d="M246.60 469.70H255.80M251.20 465.10V474.30" stroke="#FF0000" stroke-width="2.6" fill="none"/>
<path d="M280.20 472.00H289.40M284.80 467.40V476.60" stroke="#FF0000" stroke-width="2.6" fill="none"/>
<circle cx="88.10" cy="567.90" r="3.90" fill="#fff" stroke="#ED7D31" stroke-width="1.7"/>
<circle cx="124.80" cy="507.20" r="3.90" fill="#fff" stroke="#ED7D31" stroke-width="1.7"/>
<circle cx="152.00" cy="483.80" r="3.90" fill="#fff" stroke="#ED7D31" stroke-width="1.7"/>
<circle cx="181.90" cy="467.00" r="3.90" fill="#fff" stroke="#ED7D31" stroke-width="1.7"/>
<circle cx="227.80" cy="453.70" r="3.90" fill="#fff" stroke="#ED7D31" stroke-width="1.7"/>
<circle cx="251.20" cy="450.80" r="3.90" fill="#fff" stroke="#ED7D31" stroke-width="1.7"/>
<circle cx="284.80" cy="450.80" r="3.90" fill="#fff" stroke="#ED7D31" stroke-width="1.7"/>
<path d="M81.82 592.10L93.58 603.30M81.82 603.30L93.58 592.10" stroke="#2F5597" stroke-width="2.60" fill="none"/>
<path d="M118.72 535.70L130.48 546.90M118.72 546.90L130.48 535.70" stroke="#2F5597" stroke-width="2.60" fill="none"/>
<path d="M146.12 508.80L157.88 520.00M146.12 520.00L157.88 508.80" stroke="#2F5597" stroke-width="2.60" fill="none"/>
<path d="M176.02 492.70L187.78 503.90M176.02 503.90L187.78 492.70" stroke="#2F5597" stroke-width="2.60" fill="none"/>
<path d="M221.92 479.40L233.68 490.60M221.92 490.60L233.68 479.40" stroke="#2F5597" stroke-width="2.60" fill="none"/>
<path d="M245.32 474.90L257.08 486.10M245.32 486.10L257.08 474.90" stroke="#2F5597" stroke-width="2.60" fill="none"/>
<path d="M278.92 471.70L290.68 482.90M278.92 482.90L290.68 471.70" stroke="#2F5597" stroke-width="2.60" fill="none"/>
<circle cx="87.70" cy="607.70" r="3.70" fill="none" stroke="#9DC3E6" stroke-width="2.0"/>
<circle cx="124.50" cy="555.00" r="3.70" fill="none" stroke="#9DC3E6" stroke-width="2.0"/>
<circle cx="152.00" cy="527.80" r="3.70" fill="none" stroke="#9DC3E6" stroke-width="2.0"/>
<circle cx="181.90" cy="507.90" r="3.70" fill="none" stroke="#9DC3E6" stroke-width="2.0"/>
<circle cx="227.80" cy="491.00" r="3.70" fill="none" stroke="#9DC3E6" stroke-width="2.0"/>
<circle cx="251.20" cy="486.40" r="3.70" fill="none" stroke="#9DC3E6" stroke-width="2.0"/>
<circle cx="284.80" cy="483.80" r="3.70" fill="none" stroke="#9DC3E6" stroke-width="2.0"/>
<rect x="55.50" y="368.30" width="265.50" height="275.30" fill="none" stroke="#000" stroke-width="1.6"/>
<text transform="translate(40.30 649.40) scale(1.020 1)" font-size="17.5" text-anchor="end" font-weight="normal" fill="#000" >0</text>
<text transform="translate(40.30 610.07) scale(1.020 1)" font-size="17.5" text-anchor="end" font-weight="normal" fill="#000" >5</text>
<text transform="translate(40.30 570.74) scale(1.020 1)" font-size="17.5" text-anchor="end" font-weight="normal" fill="#000" >10</text>
<text transform="translate(40.30 531.41) scale(1.020 1)" font-size="17.5" text-anchor="end" font-weight="normal" fill="#000" >15</text>
<text transform="translate(40.30 492.09) scale(1.020 1)" font-size="17.5" text-anchor="end" font-weight="normal" fill="#000" >20</text>
<text transform="translate(40.30 452.76) scale(1.020 1)" font-size="17.5" text-anchor="end" font-weight="normal" fill="#000" >25</text>
<text transform="translate(40.30 413.43) scale(1.020 1)" font-size="17.5" text-anchor="end" font-weight="normal" fill="#000" >30</text>
<text transform="translate(40.30 374.10) scale(1.020 1)" font-size="17.5" text-anchor="end" font-weight="normal" fill="#000" >35</text>
<text transform="translate(55.50 670.50) scale(1.020 1)" font-size="17.5" text-anchor="middle" font-weight="normal" fill="#000" >0</text>
<text transform="translate(88.69 670.50) scale(1.020 1)" font-size="17.5" text-anchor="middle" font-weight="normal" fill="#000" >10</text>
<text transform="translate(121.88 670.50) scale(1.020 1)" font-size="17.5" text-anchor="middle" font-weight="normal" fill="#000" >20</text>
<text transform="translate(155.06 670.50) scale(1.020 1)" font-size="17.5" text-anchor="middle" font-weight="normal" fill="#000" >30</text>
<text transform="translate(188.25 670.50) scale(1.020 1)" font-size="17.5" text-anchor="middle" font-weight="normal" fill="#000" >40</text>
<text transform="translate(221.44 670.50) scale(1.020 1)" font-size="17.5" text-anchor="middle" font-weight="normal" fill="#000" >50</text>
<text transform="translate(254.62 670.50) scale(1.020 1)" font-size="17.5" text-anchor="middle" font-weight="normal" fill="#000" >60</text>
<text transform="translate(287.81 670.50) scale(1.020 1)" font-size="17.5" text-anchor="middle" font-weight="normal" fill="#000" >70</text>
<text transform="translate(321.00 670.50) scale(1.020 1)" font-size="17.5" text-anchor="middle" font-weight="normal" fill="#000" >80</text>
<text x="136.80" y="695.60" font-size="17.2" fill="#000">Time</text>
<text x="179.75" y="695.60" font-size="17.2" font-style="italic" fill="#000">t</text>
<text transform="translate(190.30 695.60) scale(1.05 1)" font-size="17.2" fill="#000">[days]</text>
<text transform="translate(14.20 506.65) rotate(-90) scale(1.029 1)" font-size="17" text-anchor="middle" fill="#000">Moisture content <tspan font-style="italic">MC</tspan> [%]</text>
<circle cx="183.80" cy="557.90" r="3.20" fill="#000"/>
<text transform="translate(191.60 563.20) scale(1.055 1)" font-size="15" text-anchor="start" font-weight="normal" fill="#000" >A (No coating)</text>
<path d="M179.20 575.20H188.40M183.80 570.60V579.80" stroke="#FF0000" stroke-width="2.6" fill="none"/>
<text transform="translate(191.60 580.50) scale(1.055 1)" font-size="15" text-anchor="start" font-weight="normal" fill="#000" >Coating B</text>
<circle cx="183.80" cy="592.40" r="4.10" fill="#fff" stroke="#ED7D31" stroke-width="1.7"/>
<text transform="translate(191.60 597.70) scale(1.055 1)" font-size="15" text-anchor="start" font-weight="normal" fill="#000" >Coating C</text>
<path d="M179.29 605.50L188.31 614.10M179.29 614.10L188.31 605.50" stroke="#2F5597" stroke-width="2.30" fill="none"/>
<text transform="translate(191.60 615.10) scale(1.055 1)" font-size="15" text-anchor="start" font-weight="normal" fill="#000" >Coating D</text>
<circle cx="183.80" cy="627.20" r="4.00" fill="#fff" stroke="#9DC3E6" stroke-width="2.0"/>
<text transform="translate(191.60 632.50) scale(1.055 1)" font-size="15" text-anchor="start" font-weight="normal" fill="#000" >Coating E</text>
</svg>
</body></html>
